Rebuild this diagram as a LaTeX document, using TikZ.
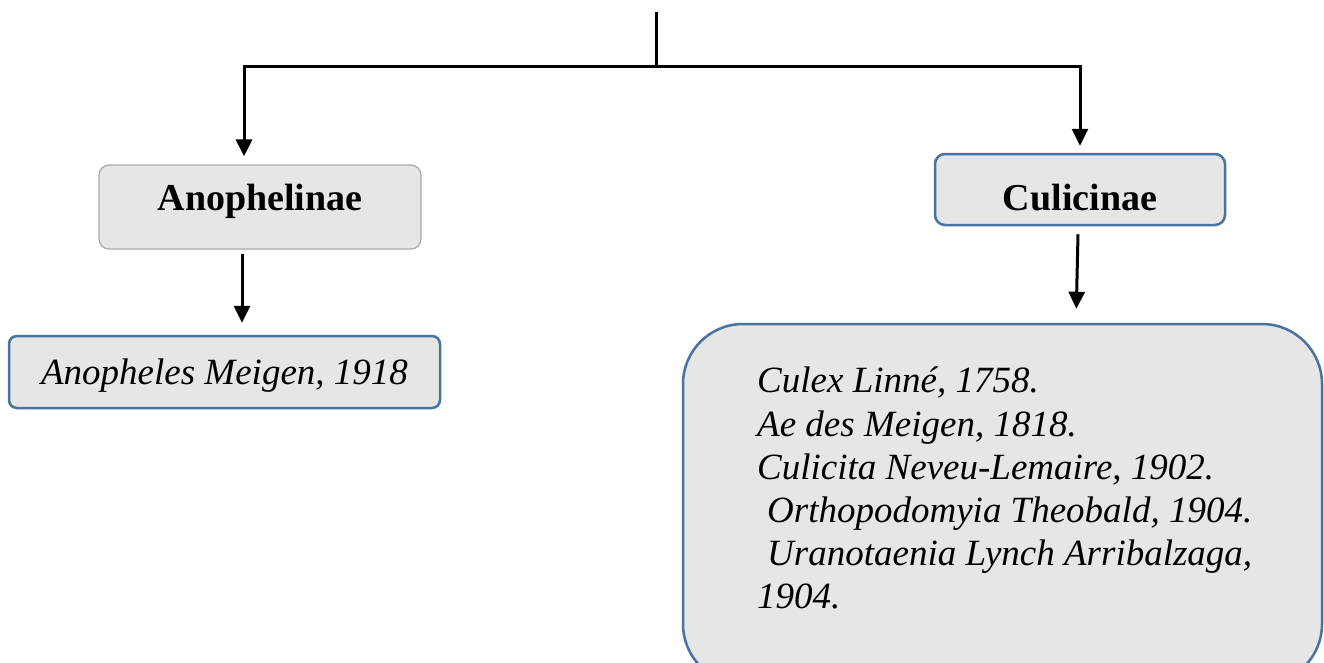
\documentclass[tikz,border=0pt]{standalone}
\usepackage{fontspec}
\setmainfont{Liberation Serif}
\usetikzlibrary{arrows.meta}
\definecolor{boxfill}{RGB}{230,230,230}
\definecolor{boxblue}{RGB}{70,115,160}
\definecolor{boxgray}{RGB}{170,170,170}
\tikzset{
  conn/.style={line width=3pt, black},
  arr/.style={conn, -{Triangle[width=16pt,length=17pt]}},
  grbox/.style={draw=boxgray, line width=1.2pt, fill=boxfill, rounded corners=10pt, inner sep=0pt},
  blbox/.style={draw=boxblue, line width=2.5pt, fill=boxfill, rounded corners=10pt, inner sep=0pt},
  bigbox/.style={draw=boxblue, line width=2.5pt, fill=boxfill, rounded corners=60pt, inner sep=0pt},
  labfont/.style={font=\fontsize{38pt}{40pt}\selectfont\bfseries},
}
\begin{document}
\begin{tikzpicture}[x=1pt,y=-1pt]
\useasboundingbox (0,0) rectangle (1324,662);
\clip (0,0) rectangle (1324,662);
\fill[white] (0,0) rectangle (1324,662);

\node[grbox, labfont, minimum width=322pt, minimum height=84pt, text height=28pt, text depth=22pt] (anoph) at (260,207)
  {Anophelinae};
\node[blbox, labfont, minimum width=290pt, minimum height=71pt, text height=41pt, text depth=0pt] (culic) at (1080,189.5)
  {Culicinae};
\node[blbox, rounded corners=8pt, minimum width=431pt, minimum height=72pt, text height=30pt, text depth=6pt] (anopheles) at (224.5,372)
  {\fontsize{37pt}{40pt}\selectfont\itshape Anopheles Meigen, 1918};
\node[bigbox, minimum width=639pt, minimum height=360pt] (genera) at (1002.5,504) {};
\node[anchor=north west, align=left, inner sep=0pt, font=\fontsize{37pt}{43.2pt}\selectfont\itshape] (genlist) at (757,367)
  {Culex Linné, 1758.\\
   Ae des Meigen, 1818.\\
   Culicita Neveu-Lemaire, 1902.\\
   \hspace*{10pt}Orthopodomyia Theobald, 1904.\\
   \hspace*{10pt}Uranotaenia Lynch Arribalzaga,\\
   1904.};

\coordinate (top) at (656,12);
\coordinate (junc) at (656,66);
\coordinate (lc) at (244,66);
\coordinate (rc) at (1080,66);
\draw[conn] (top) -- (junc);
\draw[conn, line cap=rect] (lc) -- (rc);
\draw[arr, shorten >=8pt] (lc) -- (lc |- anoph.north);
\draw[arr, shorten >=7pt] (rc) -- (culic.north);
\draw[arr, shorten >=12pt] ([xshift=-18pt,yshift=-4pt]anoph.south) -- ([xshift=-18pt]anoph.south |- anopheles.north);
\draw[arr, shorten >=14pt] ([xshift=-2pt,yshift=-8pt]culic.south) -- ([xshift=-4pt]culic.south |- genera.north);
\end{tikzpicture}
\end{document}
